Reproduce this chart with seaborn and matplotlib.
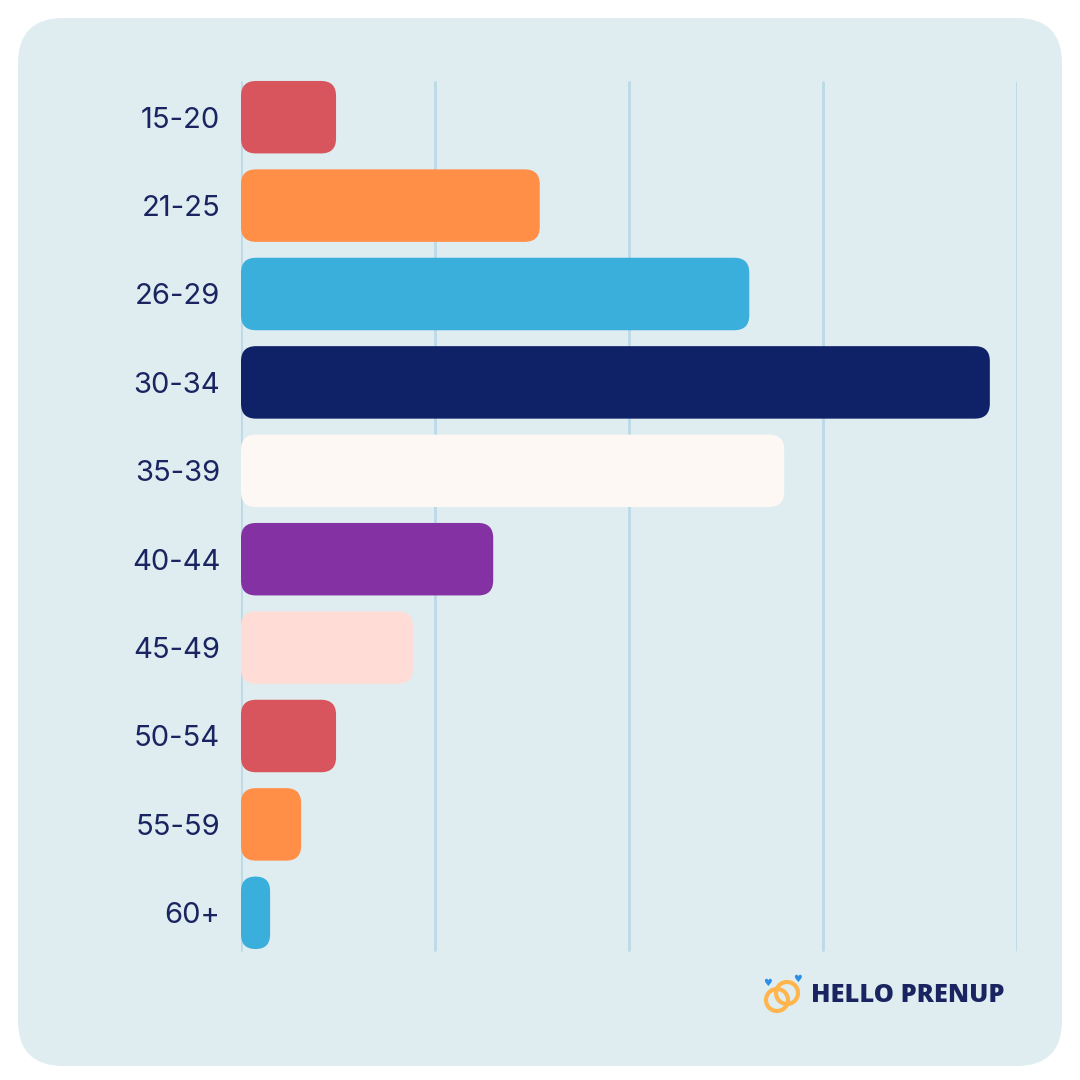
import seaborn as sns
import matplotlib.pyplot as plt
import pandas as pd
from matplotlib.patches import FancyBboxPatch, Circle
from matplotlib.transforms import IdentityTransform

ages = ['15-20', '21-25', '26-29', '30-34', '35-39', '40-44', '45-49', '50-54', '55-59', '60+']
share = [2.45, 7.7, 13.1, 19.3, 14.0, 6.5, 4.43, 2.45, 1.55, 0.75]
colors = ['#d8555d', '#ff8e47', '#3aafdb', '#0f2167', '#fdf8f3',
          '#8431a3', '#ffddd6', '#d8555d', '#ff8e47', '#3aafdb']

bg = '#dfedf1'
navy = '#1a2460'
grid_col = '#bcd9e6'

df = pd.DataFrame({'age': ages, 'share': share})

sns.set_style('white')
plt.rcParams['font.family'] = ['Inter', 'DejaVu Sans']

fig = plt.figure(figsize=(10.8, 10.8), dpi=100)
fig.patch.set_facecolor('white')

# rounded card behind everything
card = FancyBboxPatch((18 / 1080, 14 / 1080), 1044 / 1080, 1048 / 1080,
                      boxstyle='round,pad=0,rounding_size=0.042',
                      transform=fig.transFigure, facecolor=bg, edgecolor='none', zorder=-5)
fig.patches.append(card)

ax = fig.add_axes([241 / 1080, 1 - 957 / 1080, 776 / 1080, 884 / 1080])
ax.set_facecolor('none')

sns.barplot(data=df, x='share', y='age', hue='age', palette=colors, saturation=1,
            legend=False, width=0.82, ax=ax, orient='h')

ax.set_xlim(0, 20)
ax.set_ylim(9.5, -0.5)

for gx in [0, 5, 10, 15, 20]:
    ax.axvline(gx, ymin=0.008, ymax=0.99, color=grid_col, lw=2, zorder=0)

# swap the square bars for rounded ones, sized in pixels
fig.canvas.draw()
for p in list(ax.patches):
    bb = p.get_window_extent()
    r = min(15, bb.width / 2)
    rb = FancyBboxPatch((bb.x0, bb.y0), bb.width, bb.height,
                        boxstyle=f'round,pad=0,rounding_size={r}',
                        transform=IdentityTransform(), facecolor=p.get_facecolor(),
                        edgecolor='none', zorder=3)
    fig.patches.append(rb)
    p.set_visible(False)

for s in ax.spines.values():
    s.set_visible(False)
ax.set_xticks([])
ax.set_xlabel('')
ax.set_ylabel('')
ax.tick_params(axis='y', length=0, pad=15, labelsize=21, labelcolor=navy)

# logo
fig.patches.append(Circle((777 / 1080, 1 - 1000 / 1080), 11 / 1080, transform=fig.transFigure,
                          fill=False, edgecolor='#ffb54c', lw=3, zorder=5))
fig.patches.append(Circle((787 / 1080, 1 - 993 / 1080), 11 / 1080, transform=fig.transFigure,
                          fill=False, edgecolor='#ffb54c', lw=3, zorder=5))
fig.text(767 / 1080, 1 - 983 / 1080, '♥', color='#2b8ee8', fontsize=7,
         ha='center', va='center', family='DejaVu Sans')
fig.text(797 / 1080, 1 - 979 / 1080, '♥', color='#2b8ee8', fontsize=7,
         ha='center', va='center', family='DejaVu Sans')
fig.text(811 / 1080, 1 - 996 / 1080, 'HELLO PRENUP', color=navy, fontsize=18.3,
         fontweight='heavy', ha='left', va='center', family=['Open Sans', 'DejaVu Sans'])

plt.savefig('out.png', dpi=100, facecolor='white')
